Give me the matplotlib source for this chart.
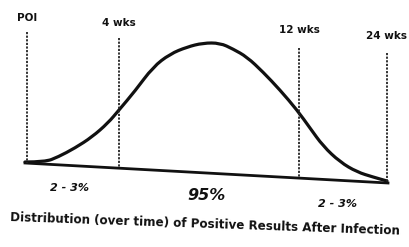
import matplotlib.pyplot as plt
from matplotlib.path import Path
from matplotlib.patches import PathPatch
import numpy as np

# schematic coordinates (x to the right, y downwards)
curve_x = [25, 45, 58, 75, 92, 108, 119, 135, 153, 170, 187, 203, 220, 233,
           247, 263, 280, 297, 310, 323, 340, 357, 373, 387]
curve_y = [162, 162, 157, 148, 137, 123, 110, 91, 67, 54, 47, 43, 43, 49,
           57, 72, 90, 110, 128, 146, 162, 172, 177, 181]

base_x = [25, 388]
base_y = [163, 183]

week_labels = ['POI', '4 wks', '12 wks', '24 wks']
week_x = [27, 119, 299, 387]
week_top = [32, 38, 48, 53]
week_label_y = [18, 23, 30, 36]

pct_labels = ['2 - 3%', '95%', '2 - 3%']
pct_x = [69, 206, 338]
pct_y = [188, 195, 204]
pct_size = [8, 11.5, 8]

caption = 'Distribution (over time) of Positive Results After Infection'

fam = ['DejaVu Sans Condensed', 'Liberation Sans Narrow', 'DejaVu Sans']

fig = plt.figure(figsize=(4.09, 2.47), dpi=100)
ax = fig.add_axes([0, 0, 1, 1])
ax.set_xlim(0, 409)
ax.set_ylim(247, 0)
ax.axis('off')

# bell curve drawn as a smooth quadratic path through the read points
pts = list(zip(curve_x, curve_y))
verts = [pts[0]]
codes = [Path.MOVETO]
for i in range(1, len(pts) - 1):
    mid = ((pts[i][0] + pts[i + 1][0]) / 2, (pts[i][1] + pts[i + 1][1]) / 2)
    verts += [pts[i], mid]
    codes += [Path.CURVE3, Path.CURVE3]
verts.append(pts[-1])
codes.append(Path.LINETO)
ax.add_patch(PathPatch(Path(verts, codes), fill=False, color='#111111',
                       lw=2.3, capstyle='round', joinstyle='round'))

ax.plot(base_x, base_y, color='#111111', lw=2.0)

# dotted week markers
for lab, x, top, ly in zip(week_labels, week_x, week_top, week_label_y):
    bottom = np.interp(x, base_x, base_y)
    ax.plot([x, x], [top, bottom], color='#222222', lw=1.3, ls=(0, (1.2, 0.8)))
    ax.text(x, ly, lab, ha='center', va='center', fontsize=7.5,
            fontweight='bold', family=fam, color='#111111')

for lab, x, y, s in zip(pct_labels, pct_x, pct_y, pct_size):
    ax.text(x, y, lab, ha='center', va='center', fontsize=s, fontweight='bold',
            fontstyle='italic', family=fam, color='#111111')

ax.text(205, 224, caption, ha='center', va='center', fontsize=8.6,
        fontweight='bold', family=fam, rotation=-2, color='#111111')

fig.savefig('out.png', dpi=100)
